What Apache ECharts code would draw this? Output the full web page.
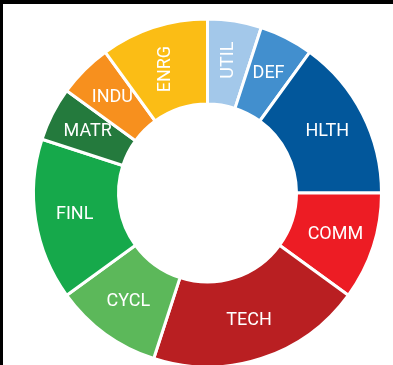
<!DOCTYPE html>
<html>
<head>
<meta charset="utf-8">
<script src="https://cdn.jsdelivr.net/npm/echarts@6/dist/echarts.min.js"></script>
<style>
html,body{margin:0;padding:0;background:#fff;}
#chart{width:393px;height:365px;}
</style>
</head>
<body>
<div id="chart"></div>
<script>
var categories = ['UTIL','DEF','HLTH','COMM','TECH','CYCL','FINL','MATR','INDU','ENRG'];
var values = [5,5,15,10,20,10,15,5,5,10];
var colors = ['#a3c8ea','#428fce','#02579b','#ed1c24','#b91f22','#5cb85a','#16a94b','#247a3d','#f7901e','#fbbd15'];

var data = categories.map(function(c,i){
  var d = {name:c, value:values[i], itemStyle:{color:colors[i]}};
  if (c === 'UTIL') d.label = {rotate:90, padding:[2,0,0,0]};
  if (c === 'ENRG') d.label = {rotate:90, padding:[0,8,0,0]};
  return d;
});

var chart = echarts.init(document.getElementById('chart'), null, {renderer:'canvas'});
chart.setOption({
  animation:false,
  graphic:[
    {type:'rect', shape:{x:0,y:0,width:393,height:4}, style:{fill:'#000'}},
    {type:'rect', shape:{x:0,y:0,width:3,height:365}, style:{fill:'#000'}}
  ],
  series:[{
    type:'pie',
    center:[207.5,193],
    radius:[89,174],
    startAngle:90,
    clockwise:true,
    avoidLabelOverlap:false,
    itemStyle:{borderColor:'#fff', borderWidth:3},
    label:{
      show:true, position:'inside', color:'#fff',
      fontFamily:'Roboto', fontSize:18, formatter:'{b}',
      padding:[6,0,0,0]
    },
    labelLine:{show:false},
    emphasis:{disabled:true},
    data:data
  }]
});
</script>
</body>
</html>
